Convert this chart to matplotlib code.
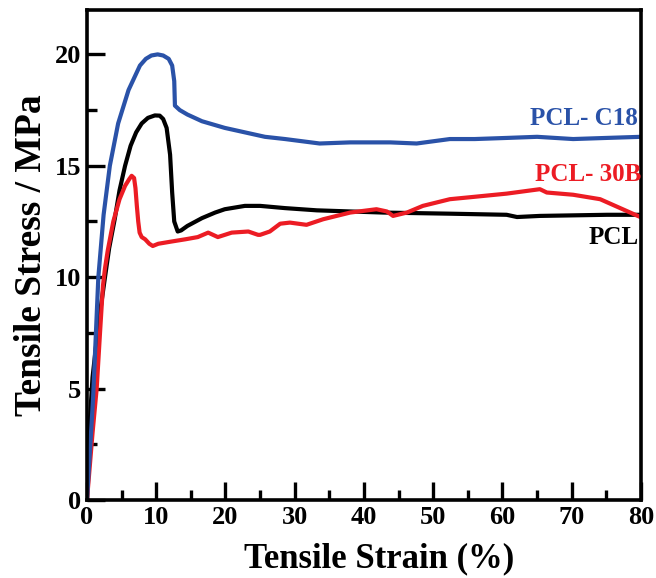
#!/usr/bin/python3
"""
Tensile stress-strain curves for PCL and its nanocomposites.
"""
import matplotlib
matplotlib.use('Agg')
import matplotlib.pyplot as plt
from matplotlib.ticker import MultipleLocator

# Strain (%) and stress (MPa)
strain_c18 = [0, 0.87, 1.64, 2.4, 3.3, 4.5, 6.0, 7.65, 8.5, 9.3, 10.2, 11.0,
              11.8, 12.3, 12.6, 12.7, 13.4, 14.5, 16.6, 19.9, 22.8, 25.7,
              28.6, 33.6, 38.0, 43.8, 47.6, 52.4, 56.0, 60.6, 65.0, 70.2,
              75.0, 80.0]
stress_c18 = [0, 4.5, 10.0, 12.8, 15.0, 16.9, 18.4, 19.5, 19.8, 19.95, 20.0,
              19.95, 19.8, 19.5, 18.8, 17.7, 17.5, 17.3, 17.0, 16.7, 16.5,
              16.3, 16.2, 16.0, 16.05, 16.05, 16.0, 16.2, 16.2, 16.25, 16.3,
              16.2, 16.25, 16.3]

strain_pcl = [0, 0.3, 0.8, 1.7, 2.6, 3.2, 4.0, 4.7, 5.5, 6.3, 7.1, 7.9, 8.8,
              9.8, 10.5, 11.0, 11.5, 12.0, 12.3, 12.6, 13.1, 13.6, 14.5,
              16.6, 18.5, 19.9, 22.8, 25.0, 28.6, 33.2, 42.8, 52.4, 60.6,
              62.1, 65.4, 75.1, 80.0]
stress_pcl = [0, 3.0, 5.5, 8.0, 10.0, 11.3, 12.6, 13.9, 15.0, 15.9, 16.5,
              16.9, 17.15, 17.26, 17.25, 17.1, 16.7, 15.5, 13.8, 12.5, 12.05,
              12.1, 12.3, 12.65, 12.9, 13.05, 13.2, 13.2, 13.1, 13.0, 12.9,
              12.85, 12.8, 12.7, 12.75, 12.8, 12.8]

strain_30b = [0, 0.8, 1.4, 1.9, 2.3, 2.6, 3.0, 3.8, 4.7, 5.5, 6.1, 6.45, 6.8,
              7.0, 7.2, 7.4, 7.6, 7.9, 8.4, 9.0, 9.5, 10.3, 12.2, 14.2, 16.0,
              17.5, 18.9, 20.9, 23.3, 24.7, 25.0, 26.4, 27.9, 29.3, 31.7,
              34.1, 38.0, 41.8, 43.3, 44.2, 46.2, 48.5, 52.4, 55.7, 60.6,
              65.4, 66.4, 70.2, 74.1, 77.0, 79.9]
stress_30b = [0, 3.0, 5.0, 7.6, 9.6, 10.4, 11.2, 12.5, 13.5, 14.1, 14.4,
              14.55, 14.45, 14.0, 13.2, 12.5, 12.0, 11.8, 11.7, 11.5, 11.4,
              11.5, 11.6, 11.7, 11.8, 12.0, 11.8, 12.0, 12.05, 11.9, 11.9,
              12.05, 12.4, 12.45, 12.35, 12.6, 12.9, 13.05, 12.95, 12.75,
              12.9, 13.2, 13.5, 13.6, 13.75, 13.95, 13.8, 13.7, 13.5, 13.1,
              12.7]

blue = '#2a52a8'
red = '#ec1c24'
black = '#000000'


def format_plotting(ax):
    for side in ['left', 'right', 'top', 'bottom']:
        ax.spines[side].set_linewidth(2.6)
    ax.xaxis.set_major_locator(MultipleLocator(10))
    ax.xaxis.set_minor_locator(MultipleLocator(5))
    ax.yaxis.set_major_locator(MultipleLocator(5))
    ax.yaxis.set_minor_locator(MultipleLocator(2.5))
    ax.tick_params(which='major', direction='in', length=13, width=2.4,
                   labelsize=19, pad=4, top=False, right=False)
    ax.tick_params(which='minor', direction='in', length=7, width=2.4,
                   top=False, right=False)
    for lab in ax.get_xticklabels() + ax.get_yticklabels():
        lab.set_fontweight('bold')


def plot_tensile():
    plt.rcParams['font.family'] = ['Liberation Serif', 'DejaVu Serif']
    fig = plt.figure(figsize=(6.56, 5.78), dpi=100)
    ax = fig.add_axes([0.1326, 0.135, 0.8445, 0.848])

    ax.plot(strain_pcl, stress_pcl, color=black, lw=3)
    ax.plot(strain_30b, stress_30b, color=red, lw=3)
    ax.plot(strain_c18, stress_c18, color=blue, lw=3)

    ax.set_xlim(0, 80)
    ax.set_ylim(0, 22)
    format_plotting(ax)

    ax.set_xlabel('Tensile Strain (%)', fontsize=25, fontweight='bold')
    ax.xaxis.set_label_coords(0.527, -0.087, transform=ax.transAxes)
    ax.xaxis.label.set_va('top')
    ax.set_ylabel('Tensile Stress / MPa', fontsize=27, fontweight='bold',
                  labelpad=4)

    ax.text(79.6, 17.1, 'PCL- C18', color=blue, fontsize=18,
            fontweight='bold', ha='right', va='center')
    ax.text(80.0, 14.6, 'PCL- 30B', color=red, fontsize=18,
            fontweight='bold', ha='right', va='center')
    ax.text(79.6, 11.8, 'PCL', color=black, fontsize=18,
            fontweight='bold', ha='right', va='center')

    fig.savefig('out.png', dpi=100)


if __name__ == "__main__":
    plot_tensile()
